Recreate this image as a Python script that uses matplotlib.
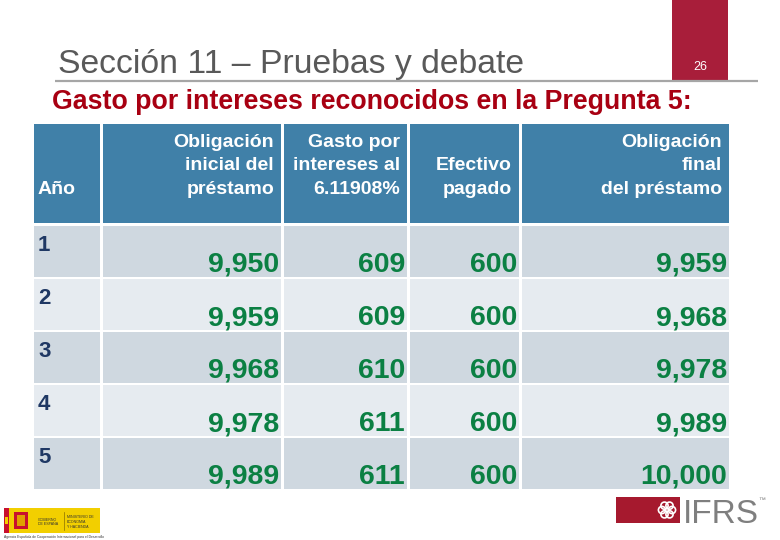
import math

import matplotlib
matplotlib.use('Agg')
import matplotlib.pyplot as plt
import matplotlib.patches as mp
from matplotlib import font_manager

# table data
years = ['1', '2', '3', '4', '5']
opening = ['9,950', '9,959', '9,968', '9,978', '9,989']
interest = ['609', '609', '610', '611', '611']
cash = ['600', '600', '600', '600', '600']
closing = ['9,959', '9,968', '9,978', '9,989', '10,000']
headers = ['Año', 'Obligación\ninicial del\npréstamo', 'Gasto por\nintereses al\n6.11908%',
           'Efectivo\npagado', 'Obligación\nfinal\ndel préstamo']

title = 'Sección 11 – Pruebas y debate'
subtitle = 'Gasto por intereses reconocidos en la Pregunta 5:'
page = '26'

installed = {f.name for f in font_manager.fontManager.ttflist}
narrow = 'Liberation Sans Narrow' in installed

fig = plt.figure(figsize=(7.8, 5.4), dpi=100)
ax = fig.add_axes([0, 0, 1, 1])
ax.set_xlim(0, 780)
ax.set_ylim(540, 0)
ax.axis('off')

FONT = ['Liberation Sans', 'DejaVu Sans']

# top banner
ax.add_patch(mp.Rectangle((672, 0), 56, 80, color='#A81E3A', lw=0))
ax.text(700, 67, page, color='white', fontsize=9, ha='center', va='center', family=FONT)
ax.plot([55, 758], [80.5, 80.5], color='#A6A6A6', lw=1.6, solid_capstyle='butt')
ax.text(58, 73, title, color='#595959', fontsize=24.3, ha='left', va='baseline', family=FONT)
if narrow:
    ax.text(52, 109, subtitle, color='#A80012', fontsize=22, fontweight='bold', ha='left',
            va='baseline', family=['Liberation Sans Narrow', 'Liberation Sans'])
else:
    ax.text(52, 109, subtitle, color='#A80012', fontsize=19.3, fontweight='bold', ha='left',
            va='baseline', family=FONT)

# table geometry
col_edges = [(34, 100), (103, 281), (284, 407), (410, 519), (522, 729)]
head_top, head_bot = 124, 223
row_top0, row_pitch, row_h = 226, 53, 51

for i, (x0, x1) in enumerate(col_edges):
    ax.add_patch(mp.Rectangle((x0, head_top), x1 - x0, head_bot - head_top, color='#4080A8', lw=0))
    if i == 0:
        ax.text(x0 + 4, 194, headers[i], color='white', fontsize=14, fontweight='bold',
                ha='left', va='baseline', family=FONT)
    else:
        ax.text(x1 - 7, 194, headers[i], color='white', fontsize=14, fontweight='bold',
                ha='right', va='baseline', multialignment='right', linespacing=1.5, family=FONT)

columns = [opening, interest, cash, closing]
for r in range(len(years)):
    top = row_top0 + r * row_pitch
    shade = '#CFD8E0' if r % 2 == 0 else '#E6EBF0'
    for (x0, x1) in col_edges:
        ax.add_patch(mp.Rectangle((x0, top), x1 - x0, row_h, color=shade, lw=0))
    ax.text(col_edges[0][0] + 4, top + 25, years[r], color='#1F3864', fontsize=16,
            fontweight='bold', ha='left', va='baseline', family=FONT)
    for c, vals in enumerate(columns):
        x1 = col_edges[c + 1][1]
        ax.text(x1 - 2, top + 46, vals[r], color='#0B8043', fontsize=20.5, fontweight='bold',
                ha='right', va='baseline', family=FONT)

# IFRS logo
ax.add_patch(mp.Rectangle((616, 497), 64, 26, color='#A6192E', lw=0))
for k in range(6):
    a = math.pi / 3 * k
    ax.add_patch(mp.Circle((667 + 5 * math.cos(a), 510 + 5 * math.sin(a)), 3.6,
                           facecolor='none', edgecolor='white', lw=1.2))
ax.text(683, 523, 'IFRS', color='#7F7F7F', fontsize=24, ha='left', va='baseline', family=FONT)
ax.text(758, 502, '™', color='#7F7F7F', fontsize=5, ha='left', va='baseline', family=FONT)

# Spanish government logo
ax.add_patch(mp.Rectangle((4, 508), 96, 25, color='#F2CF00', lw=0))
ax.add_patch(mp.Rectangle((4, 508), 5, 25, color='#C8102E', lw=0))
ax.add_patch(mp.Rectangle((5, 517), 3, 7, color='#F2CF00', lw=0))
ax.add_patch(mp.Rectangle((14, 512), 14, 17, color='#C8102E', lw=0))
ax.add_patch(mp.Rectangle((17, 515), 8, 11, color='#E0A000', lw=0))
ax.plot([64, 64], [512, 530], color='#8A7000', lw=0.5)
ax.text(38, 522, 'GOBIERNO\nDE ESPAÑA', fontsize=2.6, color='#333333', ha='left', va='center',
        family=FONT)
ax.text(67, 522, 'MINISTERIO DE\nECONOMÍA\nY HACIENDA', fontsize=2.6, color='#333333', ha='left',
        va='center', family=FONT)
ax.text(4, 537, 'Agencia Española de Cooperación Internacional para el Desarrollo', fontsize=2.4,
        color='#333333', ha='left', va='center', family=FONT)

plt.savefig('out.png', dpi=100)
